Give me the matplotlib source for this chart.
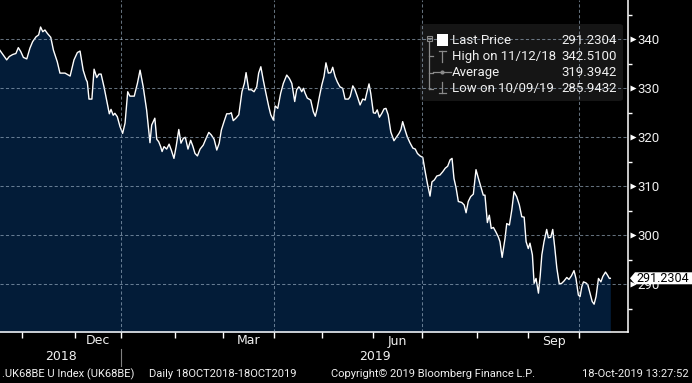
import matplotlib
matplotlib.use('Agg')
import matplotlib.pyplot as plt
import numpy as np
import pandas as pd
from matplotlib.patches import FancyBboxPatch, Polygon, Rectangle
from matplotlib.lines import Line2D
from matplotlib.transforms import blended_transform_factory

W, H = 692, 383

# ---------------- data ----------------
start_date = '2018-10-18'
end_date = '2019-10-18'
uk_holidays = ['2018-12-25', '2018-12-26', '2019-01-01', '2019-04-19',
               '2019-04-22', '2019-05-06', '2019-05-27', '2019-08-26']

# trading-day index (0 = 18 Oct 2018) and index level
day_pos = [0, 3.6, 4.7, 6.1, 7.4, 8.4, 9.4, 10.5, 11.9, 13.2, 14.3, 15.7, 16.8, 17.6,
           18.5, 19.4, 20.4, 21.8, 22.9, 24.5, 25.6, 27.7, 29.8, 31.4, 32.8, 33.9,
           35.2, 36.4, 36.9, 37.6, 38.8, 39.7, 40.8, 41.7, 42.6, 43.8, 44.9, 46.0,
           46.7, 47.6, 48.3, 49.3, 50.4, 51.5, 52.5, 53.6, 54.5, 56.3, 57.6, 58.7,
           60.0, 61.4, 62.8, 63.5, 64.8, 65.6, 66.4, 67.2, 67.8, 68.6, 69.7, 70.7,
           71.6, 72.7, 73.6, 74.7, 75.6, 76.6, 77.4, 78.5, 79.6, 80.5, 81.4, 82.4,
           83.5, 84.8, 86.0, 87.1, 88.1, 89.3, 90.4, 91.4, 92.3, 93.4, 94.5, 95.6,
           96.4, 97.2, 98.3, 99.5, 100.8, 101.8, 102.5, 103.6, 104.7, 105.8, 106.9,
           107.7, 108.6, 109.6, 110.7, 111.9, 112.7, 113.8, 114.5, 115.6, 116.8,
           117.9, 119.3, 120.4, 121.4, 122.6, 123.4, 124.3, 124.8, 125.5, 126.2,
           126.9, 127.8, 129.2, 130.3, 131.1, 131.9, 132.8, 133.8, 134.7, 135.5,
           136.5, 137.5, 138.3, 139.3, 140.2, 141.3, 142.4, 143.4, 144.8, 145.5,
           146.6, 147.5, 148.5, 149.6, 150.7, 151.7, 152.4, 153.3, 154.0, 155.1,
           155.9, 156.7, 157.6, 158.6, 159.5, 160.3, 161.2, 162.3, 163.6, 164.7,
           165.7, 166.5, 167.2, 168.2, 169.1, 170.2, 171.4, 172.4, 173.3, 174.4,
           175.5, 176.4, 177.4, 178.5, 179.3, 180.3, 181.3, 182.6, 183.8, 184.8,
           185.8, 186.8, 187.6, 188.4, 189.3, 190.2, 191.6, 192.6, 193.4, 194.3,
           195.3, 196.4, 197.5, 198.5, 199.5, 200.5, 201.2, 202.2, 203.0, 203.8,
           204.7, 205.7, 206.7, 207.4, 208.3, 209.5, 210.2, 211.3, 212.3, 213.2,
           214.3, 215.4, 216.4, 217.4, 218.2, 219.1, 219.8, 220.8, 221.5, 222.3,
           223.3, 224.0, 224.7, 225.6, 226.7, 227.4, 228.4, 229.2, 230.0, 230.9,
           231.9, 232.9, 233.9, 235.0, 235.9, 236.9, 238.0, 238.8, 239.8, 240.5,
           241.2, 241.9, 242.9, 243.7, 244.6, 245.5, 246.3, 247.1, 248.1, 249.1,
           249.9, 251.0, 251.8, 252.6, 253.0]
price = [338.3, 335.8, 336.5, 336.9, 337.1, 338.3, 337.5, 336.3, 336.0, 338.2, 339.5,
         340.5, 340.9, 342.51, 341.55, 341.9, 341.2, 340.4, 337.8, 335.4, 333.1,
         333.1, 332.5, 335.8, 337.3, 337.6, 333.7, 331.8, 331.3, 327.8, 327.8,
         333.9, 332.2, 332.9, 332.9, 330.3, 327.6, 324.8, 325.7, 324.5, 324.9,
         324.2, 322.2, 320.8, 322.9, 329.3, 328.4, 328.4, 331.0, 333.7, 330.3,
         325.6, 318.9, 322.5, 323.9, 319.6, 319.1, 318.1, 317.1, 318.1, 317.6,
         318.6, 317.4, 315.7, 318.1, 321.6, 318.8, 319.8, 320.0, 317.6, 319.4,
         318.2, 316.7, 316.2, 317.6, 318.4, 319.8, 321.0, 320.5, 319.6, 317.4,
         318.8, 321.5, 323.2, 324.8, 324.8, 325.0, 323.4, 323.9, 324.6, 329.3,
         331.0, 333.2, 329.7, 329.7, 329.3, 330.3, 333.1, 334.4, 331.7, 329.0,
         326.2, 324.6, 323.5, 326.4, 325.9, 329.0, 331.0, 332.7, 332.0, 331.0,
         327.3, 329.7, 330.3, 330.0, 329.3, 330.0, 329.0, 328.0, 327.6, 325.2,
         324.3, 325.9, 328.3, 330.7, 332.4, 335.2, 333.1, 333.2, 334.3, 332.4,
         331.3, 330.3, 330.0, 327.8, 327.8, 328.3, 330.5, 329.7, 328.3, 326.6,
         327.8, 327.6, 329.1, 330.9, 329.0, 325.0, 324.9, 325.6, 324.1, 324.9,
         325.8, 325.9, 324.6, 321.1, 319.3, 320.1, 320.8, 321.6, 323.2, 321.5,
         320.1, 318.9, 317.8, 317.6, 316.7, 316.2, 315.9, 313.3, 310.6, 308.0,
         310.9, 311.3, 312.1, 312.3, 313.0, 313.7, 314.1, 315.4, 315.7, 311.6,
         309.6, 306.9, 306.7, 306.2, 304.6, 306.9, 307.9, 308.4, 313.4, 311.6,
         309.9, 308.2, 308.2, 302.6, 304.1, 301.4, 301.6, 300.7, 299.7, 298.7,
         295.5, 299.4, 302.4, 302.1, 305.2, 308.9, 307.9, 306.2, 303.8, 303.7,
         298.7, 297.3, 298.4, 296.0, 290.2, 291.2, 288.2, 291.6, 296.0, 298.7,
         301.2, 299.5, 299.6, 301.2, 297.7, 293.3, 290.1, 290.2, 290.7, 291.4,
         291.0, 291.7, 292.8, 291.2, 287.8, 287.5, 289.5, 290.5, 290.3, 289.9,
         288.2, 286.5, 285.9432, 287.5, 291.2, 290.5, 291.6, 292.5, 291.9, 291.2,
         291.2304]

last_price = 291.2304
legend_labels = ['Last Price', 'High on 11/12/18', 'Average', 'Low on 10/09/19']
legend_values = ['291.2304', '342.5100', '319.3942', '285.9432']
month_label_names = ['Dec', 'Mar', 'Jun', 'Sep']
y_major = [290, 300, 310, 320, 330, 340]
y_minor = [285, 295, 305, 315, 325, 335, 345]
footer_left = '.UK68BE U Index (UK68BE)'
footer_range = 'Daily 18OCT2018-18OCT2019'
footer_copy = 'Copyright\u00a9 2019 Bloomberg Finance L.P.'
footer_time = '18-Oct-2019 13:27:52'

# ---------------- calendar ----------------
days = pd.bdate_range(start_date, end_date)
days = days[~days.isin(pd.to_datetime(uk_holidays))]
per = days.to_period('M')
is_start = np.r_[False, np.asarray(per[1:] != per[:-1])]
ms_idx = np.flatnonzero(is_start)
ms_dates = days[ms_idx]

# ---------------- figure ----------------
BG = 'black'
FILL = '#031c38'
GRID = '#a8bcd0'
TXT = '#f0f0f0'
fig = plt.figure(figsize=(W / 100, H / 100), dpi=100, facecolor=BG)
ax = fig.add_axes([0, 51 / H, 628 / W, 332 / H])
ax.set_facecolor(BG)
ax.set_xlim(0.83, 260.3)
ax.set_ylim(280.27, 348.02)

ax.fill_between(day_pos, price, 270, color=FILL, lw=0, zorder=1)
ax.plot(day_pos, price, color='white', lw=1.0, zorder=3, solid_joinstyle='round')

# grid
for v in y_major:
    ax.axhline(v, color=GRID, alpha=0.6, lw=0.75, dashes=(3, 2.2), zorder=5)
for i, d in zip(ms_idx, ms_dates):
    if d.month in (1, 4, 7, 10):
        ax.axvline(i, color=GRID, alpha=0.6, lw=0.75, dashes=(3, 2.2), zorder=5)

# spines / ticks
for s in ['left', 'top']:
    ax.spines[s].set_visible(False)
for s in ['right', 'bottom']:
    ax.spines[s].set_color('white')
    ax.spines[s].set_linewidth(1.1)
ax.yaxis.tick_right()
ax.set_yticks(y_major)
ax.set_yticklabels([str(v) for v in y_major])
ax.set_yticks(y_minor, minor=True)
ax.tick_params(axis='y', which='major', length=0, pad=7, labelcolor=TXT,
               labelsize=9.5, labelfontfamily='Roboto')
ax.tick_params(axis='y', which='minor', length=3, width=1, color='white', direction='out')
ax.set_xticks(ms_idx)
ax.set_xticklabels([])
ax.tick_params(axis='x', which='major', length=4, width=1, color='white', direction='out')

# triangle markers at major y ticks
tri_tr = blended_transform_factory(ax.transAxes, ax.transData)
ax.plot([1 + 4.5 / 628] * len(y_major), y_major, ls='none', marker='>', ms=4.5,
        color='white', mec='none', transform=tri_tr, clip_on=False, zorder=6)

# month labels and year labels
xt = blended_transform_factory(ax.transData, fig.transFigure)
starts = list(ms_idx) + [days.size - 1 + 20]
for name in month_label_names:
    for k, d in enumerate(ms_dates):
        if d.strftime('%b') == name:
            mid = (starts[k] + starts[k + 1]) / 2
            fig.text(mid, 1 - 341 / H, name, transform=xt, ha='center', va='center',
                     color=TXT, fontsize=9, family='DejaVu Sans')
jan = [i for i, d in zip(ms_idx, ms_dates) if d.month == 1][0]
x0, x1 = ax.get_xlim()
fig.text((x0 + jan) / 2, 1 - 357 / H, '2018', transform=xt, ha='center', va='center',
         color=TXT, fontsize=9, family='DejaVu Sans')
fig.text((jan + x1) / 2, 1 - 357 / H, '2019', transform=xt, ha='center', va='center',
         color=TXT, fontsize=9, family='DejaVu Sans')
fig.add_artist(Line2D([jan, jan], [1 - 349 / H, 1 - 366 / H], transform=xt,
                      color='#808080', lw=0.8))

# footer
ff = ['Liberation Sans Narrow', 'Roboto']
fy = 1 - 374 / H
fig.text(2 / W, fy, footer_left, ha='left', va='center', color=TXT, fontsize=8, family=ff)
fig.text(149 / W, fy, footer_range, ha='left', va='center', color=TXT, fontsize=8, family=ff)
fig.text(331 / W, fy, footer_copy, ha='left', va='center', color=TXT, fontsize=8, family=ff)
fig.text(689 / W, fy, footer_time, ha='right', va='center', color=TXT, fontsize=8, family=ff)

# legend box
def fxy(x, y):
    return (x / W, 1 - y / H)

box = FancyBboxPatch(fxy(420, 101), 203 / W, 77 / H,
                     boxstyle='round,pad=0,rounding_size=0.006',
                     transform=fig.transFigure, fc='#151515', ec='none', zorder=4)
ax.add_artist(box)
box.set_clip_on(False)

ICON = '#8a8a8a'
row_y = [40.3, 56.3, 72.5, 88.5]
def fline(xs, ys, **kw):
    ln = Line2D([x / W for x in xs], [1 - y / H for y in ys], transform=fig.transFigure,
                color=ICON, lw=0.9, zorder=7, **kw)
    ln.set_clip_on(False)
    ax.add_artist(ln)

# tree
sq = Rectangle(fxy(426.5, 40.5), 5 / W, 5 / H, transform=fig.transFigure,
               fc='none', ec=ICON, lw=0.8, zorder=7)
sq.set_clip_on(False); ax.add_artist(sq)
fline([427.5, 430.5], [38, 38])
fline([429, 429], [40.5, 88.5])
for yy in row_y[1:]:
    fline([429, 433], [yy, yy])
# white square
ws = Rectangle(fxy(436.5, 45.5), 11 / W, 11 / H, transform=fig.transFigure,
               fc='white', ec='none', zorder=7)
ws.set_clip_on(False); ax.add_artist(ws)
# high icon
fline([439, 445.5], [50.5, 50.5])
fline([442.2, 442.2], [50.5, 61.5])
# average icon
fline([433, 451], [72, 72])
dot = Line2D([442.2 / W], [1 - 72 / H], transform=fig.transFigure, marker='o', ms=3,
             color=ICON, mec='none', zorder=8)
dot.set_clip_on(False); ax.add_artist(dot)
# low icon
fline([442.2, 442.2], [82, 92.5])
fline([438.5, 446], [92.5, 92.5])

for lab, val, yy in zip(legend_labels, legend_values, row_y):
    t1 = ax.text(452 / W, 1 - yy / H, lab, transform=fig.transFigure, ha='left',
                 va='center', color=TXT, fontsize=9.5, family='Roboto', zorder=8)
    t2 = ax.text(617 / W, 1 - yy / H, val, transform=fig.transFigure, ha='right',
                 va='center', color=TXT, fontsize=9.5, family='Roboto', zorder=8)
    t1.set_clip_on(False); t2.set_clip_on(False)

# last price tag on right axis
fig.canvas.draw()
yd = ax.transData.transform((0, last_price))[1]
yp = H - yd
tag = Polygon([fxy(630, yp), fxy(635, yp - 6), fxy(692, yp - 6), fxy(692, yp + 6),
               fxy(635, yp + 6)], closed=True, transform=fig.transFigure,
              fc='white', ec='none', zorder=10)
tag.set_clip_on(False)
fig.add_artist(tag)
fig.text(636 / W, 1 - yp / H, '291.2304', ha='left', va='center', color='black',
         fontsize=9, family='Roboto', zorder=11)

fig.savefig('out.png', dpi=100, facecolor=BG)
